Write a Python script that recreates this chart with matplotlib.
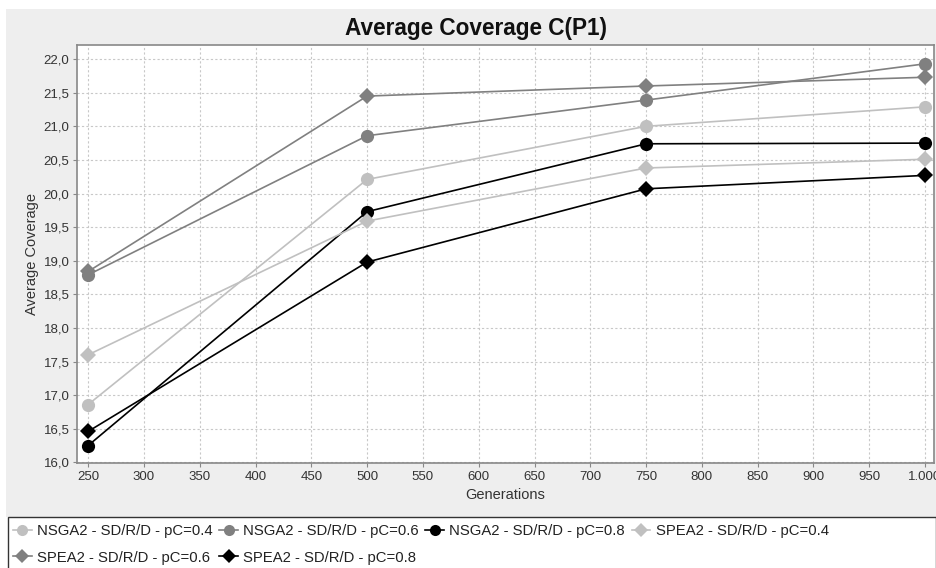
import matplotlib
matplotlib.use("Agg")
import matplotlib.pyplot as plt
from matplotlib.patches import Rectangle
from matplotlib.lines import Line2D
from matplotlib.ticker import FuncFormatter, MultipleLocator

plt.rcParams['font.family'] = ['Liberation Sans', 'DejaVu Sans']

generations = [250, 500, 750, 1000]

series_names = [
    "NSGA2 - SD/R/D - pC=0.4",
    "NSGA2 - SD/R/D - pC=0.6",
    "NSGA2 - SD/R/D - pC=0.8",
    "SPEA2 - SD/R/D - pC=0.4",
    "SPEA2 - SD/R/D - pC=0.6",
    "SPEA2 - SD/R/D - pC=0.8",
]
nsga2_04 = [16.86, 20.21, 21.00, 21.29]
nsga2_06 = [18.79, 20.86, 21.39, 21.93]
nsga2_08 = [16.25, 19.73, 20.74, 20.75]
spea2_04 = [17.60, 19.59, 20.38, 20.51]
spea2_06 = [18.84, 21.45, 21.60, 21.73]
spea2_08 = [16.46, 18.98, 20.07, 20.27]

series_values = [nsga2_04, nsga2_06, nsga2_08, spea2_04, spea2_06, spea2_08]
series_colors = ["#c0c0c0", "#808080", "#000000", "#c0c0c0", "#808080", "#000000"]
series_markers = ["o", "o", "o", "D", "D", "D"]

W, H = 937, 568
fig = plt.figure(figsize=(W / 100, H / 100), dpi=100)
fig.patch.set_facecolor("white")

# chart panel background
fig.patches.append(Rectangle((6 / W, 1 - 517 / H), (W - 6) / W, (517 - 9) / H,
                             transform=fig.transFigure, facecolor="#eeeeee",
                             edgecolor="none", zorder=-2))
# legend panel
fig.patches.append(Rectangle((8 / W, -0.05), (936 - 8) / W, 0.05 + (568 - 517) / H,
                             transform=fig.transFigure, facecolor="white",
                             edgecolor="#333333", linewidth=1.0, zorder=-1))

left, right, top, bottom = 77, 934, 45, 463
ax = fig.add_axes([left / W, 1 - bottom / H, (right - left) / W, (bottom - top) / H])
ax.set_zorder(2)
ax.set_facecolor("white")

handles = []
for vals, name, col, mk in zip(series_values, series_names, series_colors, series_markers):
    ms = 9.5 if mk == "o" else 8.5
    ax.plot(generations, vals, color=col, linewidth=1.2, marker=mk, markersize=ms,
            markeredgewidth=0, zorder=3, clip_on=False)
    handles.append(Line2D([], [], color=col, linewidth=1.2, marker=mk,
                          markersize=8 if mk == "o" else 7, markeredgewidth=0))

ax.set_xlim(240, 1008)
ax.set_ylim(15.99, 22.21)
ax.xaxis.set_major_locator(MultipleLocator(50))
ax.yaxis.set_major_locator(MultipleLocator(0.5))


def fmt_x(v, pos):
    s = f"{int(round(v)):,}"
    return s.replace(",", ".")


def fmt_y(v, pos):
    return f"{v:.1f}".replace(".", ",")


ax.xaxis.set_major_formatter(FuncFormatter(fmt_x))
ax.yaxis.set_major_formatter(FuncFormatter(fmt_y))

ax.grid(True, color="#c8c8c8", linestyle=(0, (2, 2)), linewidth=0.8, zorder=0)
for s in ax.spines.values():
    s.set_color("#888888")
    s.set_linewidth(1.2)
ax.tick_params(axis="both", colors="#888888", length=3, width=0.8, labelsize=9.5,
               labelcolor="#333333", pad=2.5)

ax.set_xlabel("Generations", fontsize=10.5, color="#333333", labelpad=4)
ax.set_ylabel("Average Coverage", fontsize=10.5, color="#333333", labelpad=3)

fig.text(476 / W, 1 - 28 / H, "Average Coverage C(P1)", ha="center", va="center",
         fontsize=16.3, fontweight="bold", color="#111111")

# row-major order for a 4-column legend
order = [0, 4, 1, 5, 2, 3]
leg = fig.legend([handles[i] for i in order], [series_names[i] for i in order],
                 loc="upper left", bbox_to_anchor=(10 / W, 1 - 521 / H), ncol=4,
                 frameon=False, fontsize=10.75, handlelength=1.25, handletextpad=0.35,
                 columnspacing=0.45, labelspacing=0.85, borderaxespad=0, borderpad=0.2)
for t in leg.get_texts():
    t.set_color("#222222")

fig.savefig("out.png", dpi=100)
